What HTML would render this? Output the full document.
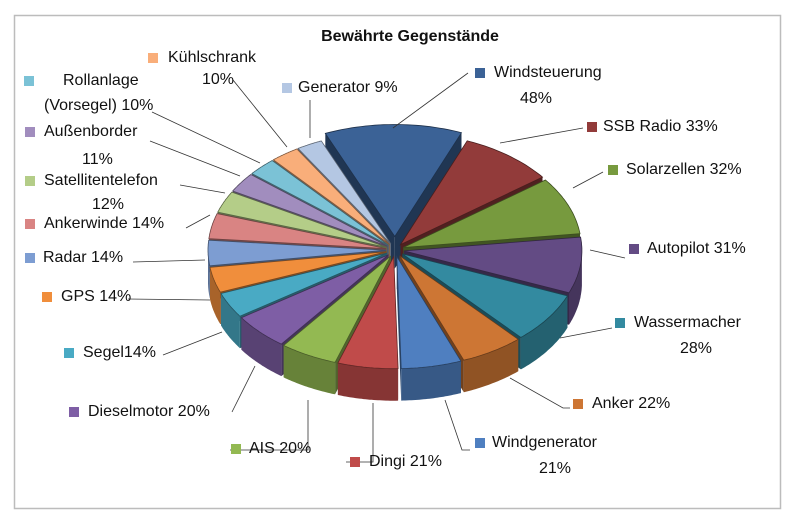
<!DOCTYPE html>
<html><head><meta charset="utf-8"><style>
html,body{margin:0;padding:0;background:#fff;}
#c{position:relative;width:800px;height:525px;overflow:hidden;font-family:"Liberation Sans",sans-serif;}
.t{position:absolute;font-size:16px;color:#111;white-space:nowrap;line-height:20px;}
.sq{position:absolute;width:10px;height:10px;}
</style></head><body><div id="c">
<svg id="s" width="800" height="525" style="position:absolute;left:0;top:0"></svg>
</div>
<script>
var s=document.getElementById('s'),c=document.getElementById('c');
var NS='http://www.w3.org/2000/svg';
function el(n,a){var e=document.createElementNS(NS,n);for(var k in a)e.setAttribute(k,a[k]);s.appendChild(e);return e;}
el('rect',{x:14.5,y:15.5,width:766,height:493,fill:'#fff',stroke:'#bcbcbc','stroke-width':1.5});
var data=[
['Windsteuerung',48,'#3B6296'],['SSB Radio',33,'#923B3A'],['Solarzellen',32,'#779A3E'],['Autopilot',31,'#634B84'],
['Wassermacher',28,'#338AA0'],['Anker',22,'#CD7634'],['Windgenerator',21,'#4F7FC0'],['Dingi',21,'#C04B4A'],
['AIS',20,'#93B952'],['Diesel',20,'#7E5EA5'],['Segel',14,'#49AAC4'],['GPS',14,'#F08E3C'],
['Radar',14,'#7D9DD2'],['Ankerwinde',14,'#D98483'],['Satellit',12,'#B4CD88'],['Aussen',11,'#A18DBE'],
['Roll',10,'#7BC2D6'],['Kuehl',10,'#F9AE7A'],['Gen',9,'#B4C7E3']];
var cx=395,cy=250,rx=178,ry=112,D=32,tot=384;
function dark(h,f){var r=parseInt(h.substr(1,2),16),g=parseInt(h.substr(3,2),16),b=parseInt(h.substr(5,2),16);return 'rgb('+Math.round(r*f)+','+Math.round(g*f)+','+Math.round(b*f)+')';}
var a=-23,sl=[];
data.forEach(function(d,i){var sp=d[1]/tot*360;sl.push({a1:a,a2:a+sp,c:d[2],ex:i==0?18:9});a+=sp;});
function P(ox,oy,t,dy){var r=t*Math.PI/180;return [ox+rx*Math.sin(r),oy-ry*Math.cos(r)+(dy||0)];}
sl.forEach(function(o){var m=(o.a1+o.a2)/2*Math.PI/180;o.ox=cx+o.ex*Math.sin(m);o.oy=cy-o.ex*Math.cos(m)*0.75;o.depth=-Math.cos(m);});
var order=sl.slice().sort(function(p,q){return p.depth-q.depth;});
function arc(o,b,e,dy,rev){var pts=[],n=30;for(var k=0;k<=n;k++){var t=rev?e-(e-b)*k/n:b+(e-b)*k/n;pts.push(P(o.ox,o.oy,t,dy));}return pts;}
function poly(pts,f,st){el('polygon',{points:pts.map(function(p){return p[0].toFixed(1)+','+p[1].toFixed(1);}).join(' '),fill:f,stroke:st||'none','stroke-width':st?0.8:0});}
order.forEach(function(o){
 var dk=dark(o.c,0.55);
 var p1=P(o.ox,o.oy,o.a1),p2=P(o.ox,o.oy,o.a2);
 poly([[o.ox,o.oy],p1,[p1[0],p1[1]+D],[o.ox,o.oy+D]],dk);
 poly([[o.ox,o.oy],p2,[p2[0],p2[1]+D],[o.ox,o.oy+D]],dk);
 var b=Math.max(o.a1,90),e=Math.min(o.a2,270);
 if(e>b){poly(arc(o,b,e,0,false).concat(arc(o,b,e,D,true)),dark(o.c,0.7));}
 poly([[o.ox,o.oy]].concat(arc(o,o.a1,o.a2,0,false)),o.c,dark(o.c,0.5));
});
var L=[[393,128,468,73],[500,143,583,128],[573,188,603,172],[590,250,625,258],[560,338,612,328],[510,378,563,408,570,408],
[445,400,462,450,470,450],[373,403,373,462,346,462],[308,400,308,450,230,450],[255,366,232,412],[222,332,163,355],
[210,300,128,299],[205,260,133,262],[210,215,186,228],[225,193,180,185],[240,176,150,141],[260,163,152,112],[287,147,233,80],[310,138,310,100]];
L.forEach(function(l){var d='M'+l[0]+' '+l[1];for(var k=2;k<l.length;k+=2)d+=' L'+l[k]+' '+l[k+1];el('path',{d:d,stroke:'#333','stroke-width':0.8,fill:'none'});});
var T=[['Kühlschrank',168,48,'#F9AE7A',148,53],['10%',202,70],['Rollanlage',63,71,'#7BC2D6',24,76],['(Vorsegel) 10%',44,96],
['Generator 9%',298,78,'#B4C7E3',282,83],['Windsteuerung',494,63,'#3B6296',475,68],['48%',520,89],
['SSB Radio 33%',603,117,'#923B3A',587,122],['Solarzellen 32%',626,160,'#779A3E',608,165],['Autopilot 31%',647,239,'#634B84',629,244],
['Wassermacher',634,313,'#338AA0',615,318],['28%',680,339],['Anker 22%',592,394,'#CD7634',573,399],
['Windgenerator',492,433,'#4F7FC0',475,438],['21%',539,459],['Dingi 21%',369,452,'#C04B4A',350,457],['AIS 20%',249,439,'#93B952',231,444],
['Dieselmotor 20%',88,402,'#7E5EA5',69,407],['Segel14%',83,343,'#49AAC4',64,348],['GPS 14%',61,287,'#F08E3C',42,292],
['Radar 14%',43,248,'#7D9DD2',25,253],['Ankerwinde 14%',44,214,'#D98483',25,219],['Satellitentelefon',44,171,'#B4CD88',25,176],
['12%',92,195],['Außenborder',44,122,'#A18DBE',25,127],['11%',82,150]];
T.forEach(function(t){var d=document.createElement('div');d.className='t';d.style.left=t[1]+'px';d.style.top=t[2]+'px';d.textContent=t[0];c.appendChild(d);
 if(t[3]){var q=document.createElement('div');q.className='sq';q.style.background=t[3];q.style.left=t[4]+'px';q.style.top=t[5]+'px';c.appendChild(q);}});
var h=document.createElement('div');h.className='t';h.style.cssText='left:0;width:820px;text-align:center;top:27px;font-weight:bold;font-size:16px;';h.textContent='Bewährte Gegenstände';c.appendChild(h);
</script></body></html>
